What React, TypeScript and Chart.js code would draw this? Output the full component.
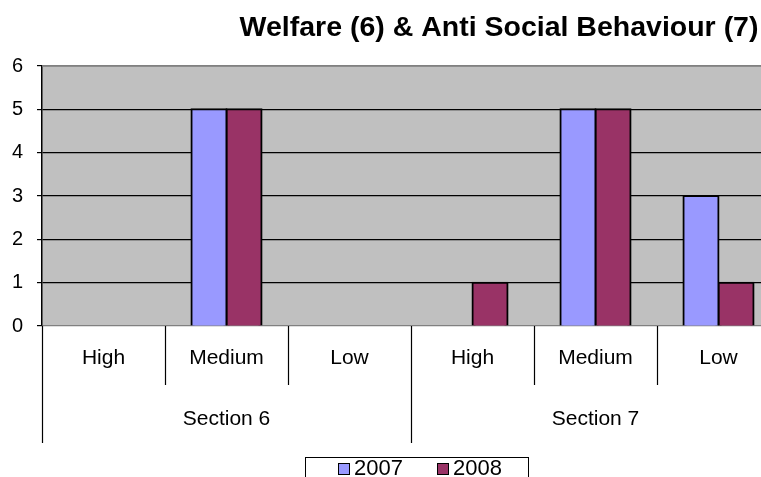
import React, { useEffect, useRef } from "react";
import { Chart, registerables } from "chart.js";

Chart.register(...registerables);

const categories = ["High", "Medium", "Low", "High", "Medium", "Low"];
const sections = ["Section 6", "Section 7"];
const sectionSize = 3;
const values2007 = [0, 5, 0, 0, 5, 3];
const values2008 = [0, 5, 0, 1, 5, 1];
const seriesNames = ["2007", "2008"];
const seriesColors = ["#9999FF", "#993366"];
const titleText = "Welfare (6) & Anti Social Behaviour (7)";

const FONT = "'Liberation Sans', Arial, sans-serif";

const decorations = {
  id: "decorations",
  beforeDraw(chart: any) {
    const { ctx, chartArea } = chart;
    ctx.save();
    ctx.fillStyle = "#C0C0C0";
    ctx.fillRect(chartArea.left, chartArea.top, chartArea.right - chartArea.left, chartArea.bottom - chartArea.top);
    ctx.restore();
  },
  afterDraw(chart: any) {
    const { ctx, chartArea } = chart;
    const x = chart.scales.x;
    const step = x.getPixelForValue(1) - x.getPixelForValue(0);
    ctx.save();

    // plot frame (top and right)
    ctx.strokeStyle = "#808080";
    ctx.lineWidth = 1.5;
    ctx.beginPath();
    ctx.moveTo(chartArea.left, chartArea.top);
    ctx.lineTo(chartArea.right, chartArea.top);
    ctx.lineTo(chartArea.right, chartArea.bottom);
    ctx.stroke();

    // category / section dividers below the axis
    ctx.strokeStyle = "#000";
    ctx.lineWidth = 1.2;
    for (let i = 0; i <= categories.length; i++) {
      const bx = Math.round(x.getPixelForValue(i) - step / 2) + 0.5;
      const isGroup = i % sectionSize === 0;
      ctx.beginPath();
      ctx.moveTo(bx, chartArea.bottom);
      ctx.lineTo(bx, isGroup ? 443 : 385);
      ctx.stroke();
    }

    // category labels
    ctx.fillStyle = "#000";
    ctx.textAlign = "center";
    ctx.textBaseline = "middle";
    ctx.font = `21px ${FONT}`;
    categories.forEach((c, i) => {
      ctx.fillText(c, x.getPixelForValue(i), 358);
    });

    // section labels
    sections.forEach((s, g) => {
      const first = x.getPixelForValue(g * sectionSize);
      const last = x.getPixelForValue(g * sectionSize + sectionSize - 1);
      ctx.fillText(s, (first + last) / 2, 419);
    });

    // title
    ctx.font = `bold 28.5px ${FONT}`;
    ctx.textBaseline = "alphabetic";
    ctx.fillText(titleText, 499, 36);

    // legend
    const lx = 305.5, ly = 457.5, lw = 223, lh = 40;
    ctx.fillStyle = "#fff";
    ctx.fillRect(lx, ly, lw, lh);
    ctx.strokeStyle = "#000";
    ctx.lineWidth = 1;
    ctx.strokeRect(lx, ly, lw, lh);
    const itemX = [338, 437];
    ctx.font = `22px ${FONT}`;
    ctx.textAlign = "left";
    ctx.textBaseline = "top";
    seriesNames.forEach((n, i) => {
      ctx.fillStyle = seriesColors[i];
      ctx.fillRect(itemX[i] + 0.5, 463.5, 11, 11);
      ctx.strokeRect(itemX[i] + 0.5, 463.5, 11, 11);
      ctx.fillStyle = "#000";
      ctx.fillText(n, itemX[i] + 16, 458);
    });

    ctx.restore();
  },
};

export default function App() {
  const canvasRef = useRef<HTMLCanvasElement | null>(null);

  useEffect(() => {
    const canvas = canvasRef.current;
    if (!canvas) return;
    const chart = new Chart(canvas, {
      type: "bar",
      data: {
        labels: categories,
        datasets: [
          {
            label: seriesNames[0],
            data: values2007,
            backgroundColor: seriesColors[0],
            borderColor: "#000",
            borderWidth: 2,
            inflateAmount: 1,
          },
          {
            label: seriesNames[1],
            data: values2008,
            backgroundColor: seriesColors[1],
            borderColor: "#000",
            borderWidth: 2,
            inflateAmount: 1,
          },
        ],
      },
      options: {
        responsive: false,
        animation: false,
        devicePixelRatio: 1,
        layout: { padding: { top: 66, left: 0, right: 20, bottom: 0 } },
        datasets: { bar: { categoryPercentage: 0.57, barPercentage: 1 } },
        plugins: {
          legend: { display: false },
          title: { display: false },
          tooltip: { enabled: false },
        },
        scales: {
          x: {
            grid: { display: false },
            border: { display: false },
            ticks: { display: false },
            afterFit(scale: any) {
              scale.height = 151;
            },
          },
          y: {
            min: 0,
            max: 6,
            ticks: {
              stepSize: 1,
              color: "#000",
              padding: 14,
              font: { family: FONT, size: 20 },
            },
            grid: {
              color: (c: any) => (c.tick && (c.tick.value === 0 || c.tick.value === 6) ? "#808080" : "#000"),
              tickColor: "#000",
              tickLength: 5,
              lineWidth: 1.2,
            },
            border: { display: true, color: "#000", width: 1.5 },
            afterFit(scale: any) {
              scale.width = 42;
            },
          },
        },
      },
      plugins: [decorations],
    });
    return () => chart.destroy();
  }, []);

  return (
    <div style={{ position: "absolute", left: 0, top: 0, width: 761, height: 477, overflow: "hidden", background: "#fff" }}>
      <canvas ref={canvasRef} width={800} height={477} style={{ display: "block" }} />
    </div>
  );
}
